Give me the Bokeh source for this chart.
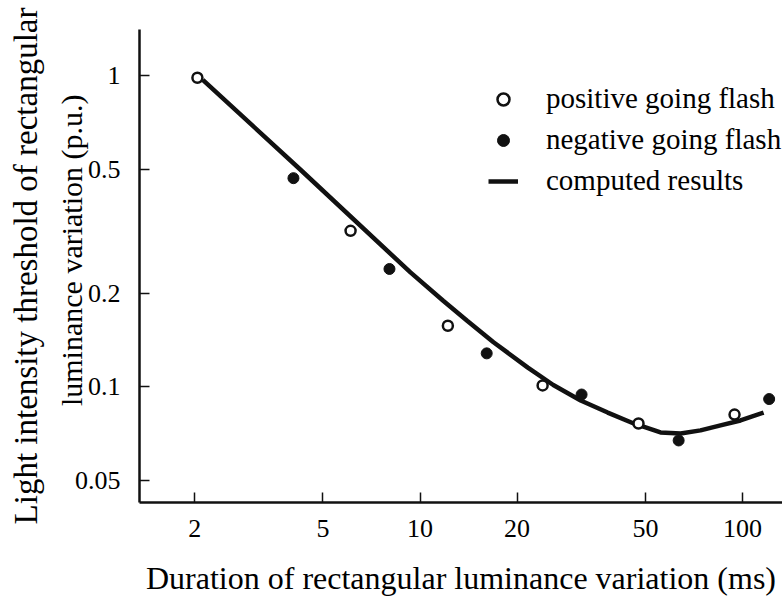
import numpy as np
from bokeh.plotting import figure
from bokeh.models import Range1d, FixedTicker, Legend, LegendItem, LogAxis, Title
from bokeh.embed import file_html
from bokeh.resources import INLINE

# ---- data ----
pos_x = [2.04, 6.09, 12.2, 24.0, 47.6, 94.5]
pos_y = [0.984, 0.317, 0.157, 0.101, 0.0762, 0.0814]

neg_x = [4.05, 8.04, 16.1, 31.7, 63.4, 121.0]
neg_y = [0.468, 0.239, 0.128, 0.0944, 0.0672, 0.0913]

curve_x = [2.12, 4.26, 9.34, 11.8, 14.0, 16.9, 21.6, 25.9, 31.5, 38.2,
           46.0, 55.7, 64.3, 74.1, 85.5, 98.6, 116.3]
curve_y = [0.969, 0.498, 0.233, 0.189, 0.163, 0.139, 0.1152, 0.1013, 0.0903,
           0.0826, 0.0762, 0.0713, 0.0707, 0.0724, 0.0751, 0.0779, 0.0826]

x_ticks = [2, 5, 10, 20, 50, 100]
x_tick_labels = ["2", "5", "10", "20", "50", "100"]
y_ticks = [0.05, 0.1, 0.2, 0.5, 1]
y_tick_labels = ["0.05", "0.1", "0.2", "0.5", "1"]

series_labels = ["positive going flash", "negative going flash", "computed results"]
x_title = "Duration of rectangular luminance variation (ms)"
y_title_1 = "Light intensity threshold of rectangular"
y_title_2 = "luminance variation (p.u.)"

FONT = "Liberation Serif"

p = figure(width=782, height=599, x_axis_type="log", y_axis_type="log",
           x_range=Range1d(1.349, 133.1), y_range=Range1d(0.04246, 1.406),
           output_backend="svg", toolbar_location=None,
           min_border_left=139, min_border_right=0, min_border_top=29,
           min_border_bottom=97)
p.outline_line_color = None
p.xgrid.visible = False
p.ygrid.visible = False
p.background_fill_color = "white"
p.border_fill_color = "white"

for ax, ticks, labels in ((p.xaxis[0], x_ticks, x_tick_labels),
                          (p.yaxis[0], y_ticks, y_tick_labels)):
    ax.ticker = FixedTicker(ticks=ticks, minor_ticks=[])
    ax.major_label_overrides = {t: l for t, l in zip(ticks, labels)}
    ax.axis_line_width = 2.5
    ax.axis_line_color = "#111111"
    ax.major_tick_in = 10
    ax.major_tick_out = 0
    ax.minor_tick_in = 0
    ax.minor_tick_out = 0
    ax.major_tick_line_width = 1.5
    ax.major_tick_line_color = "#111111"
    ax.major_label_text_font = FONT
    ax.major_label_text_font_size = "26px"
    ax.major_label_text_color = "black"
    ax.axis_label_text_font = FONT
    ax.axis_label_text_font_style = "normal"
    ax.axis_label_text_color = "black"

p.xaxis.major_label_standoff = 17
p.yaxis.major_label_standoff = 19
p.xaxis.axis_label = x_title
p.xaxis.axis_label_text_font_size = "32px"
p.xaxis.axis_label_standoff = 20

# y title: second line as a title panel next to the axis,
# first line as the label of an outer, bare axis
yax = p.yaxis[0]
title2 = Title(text=y_title_2, align="right", offset=65, vertical_align="bottom",
               standoff=-33, text_font=FONT, text_font_size="30px",
               text_font_style="normal", text_color="black")
outer = LogAxis(ticker=FixedTicker(ticks=[], minor_ticks=[]),
                axis_line_color=None, major_tick_in=0, major_tick_out=0,
                minor_tick_in=0, minor_tick_out=0, major_label_standoff=0,
                major_label_text_font_size="0px",
                axis_label=y_title_1, axis_label_standoff=26,
                axis_label_text_font=FONT, axis_label_text_font_size="33px",
                axis_label_text_font_style="normal", axis_label_text_color="black")
p.add_layout(title2, "left")
p.add_layout(outer, "left")
p.left = [yax, title2, outer]

r_line = p.line(curve_x, curve_y, line_color="#111111", line_width=4.5)
r_pos = p.scatter(pos_x, pos_y, marker="circle", size=10, fill_color="white",
                  line_color="#111111", line_width=2.5)
r_neg = p.scatter(neg_x, neg_y, marker="circle", size=11, fill_color="#111111",
                  line_color="#111111", line_width=1)

legend = Legend(items=[LegendItem(label=series_labels[0], renderers=[r_pos]),
                       LegendItem(label=series_labels[1], renderers=[r_neg]),
                       LegendItem(label=series_labels[2], renderers=[r_line])],
                location=(349, 305), padding=0, margin=0,
                border_line_color=None, background_fill_alpha=0,
                glyph_width=30, glyph_height=30, label_height=30,
                spacing=8, label_standoff=28,
                label_text_font=FONT, label_text_font_size="29px",
                label_text_color="black")
p.add_layout(legend)

open("out.html", "w").write(file_html(p, INLINE))
